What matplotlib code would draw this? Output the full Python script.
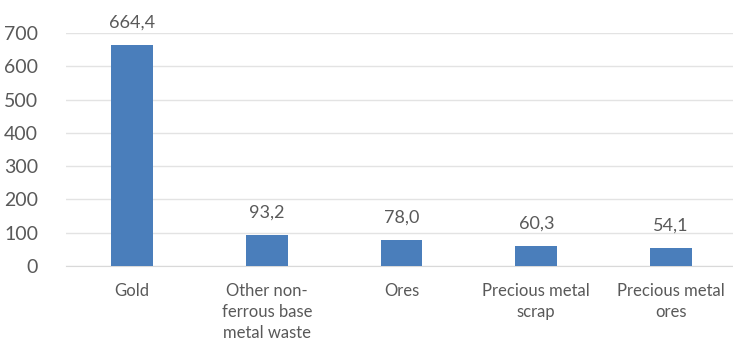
import matplotlib.pyplot as plt

categories = ["Gold", "Other non-\nferrous base\nmetal waste", "Ores",
              "Precious metal\nscrap", "Precious metal\nores"]
values = [664.4, 93.2, 78.0, 60.3, 54.1]
yticks = [0, 100, 200, 300, 400, 500, 600, 700]

plt.rcParams['font.family'] = ['Lato', 'DejaVu Sans']
txt = '#595959'

fig = plt.figure(figsize=(7.33, 3.42), dpi=100)
ax = fig.add_axes([66 / 733, 1 - 266 / 342, 1 - 66 / 733, (266 - 33) / 342])

x = range(len(categories))
ax.bar(x, values, width=0.31, color='#4a7ebb', zorder=3)
for i, v in zip(x, values):
    ax.annotate(f"{v:.1f}".replace('.', ','), (i, v), xytext=(0, 16),
                textcoords='offset points', ha='center', va='center',
                fontsize=13, color=txt)

ax.set_xlim(-0.49, 4.46)
ax.set_ylim(0, 700)
ax.set_yticks(yticks)
ax.grid(axis='y', color='#e3e3e3', linewidth=1, zorder=0)
ax.tick_params(axis='y', length=0, labelsize=14, colors=txt, pad=20)
ax.set_xticks(list(x))
ax.set_xticklabels(categories, fontsize=12, color=txt, linespacing=1.4)
ax.tick_params(axis='x', length=0, pad=12)

for s in ['top', 'right', 'left']:
    ax.spines[s].set_visible(False)
ax.spines['bottom'].set_color('#d9d9d9')

fig.savefig("out.png", dpi=100)
